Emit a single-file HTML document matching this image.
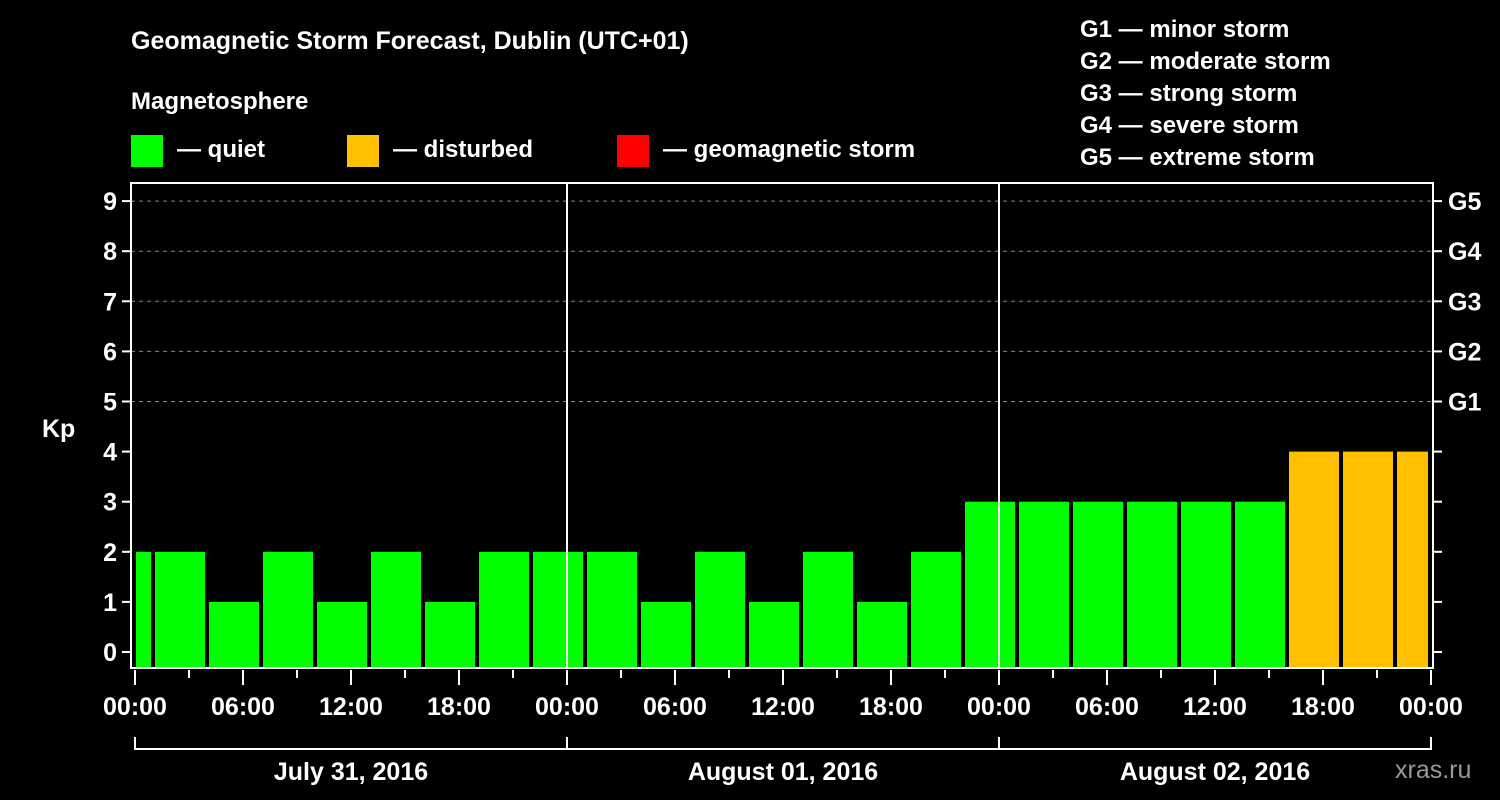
<!DOCTYPE html>
<html><head><meta charset="utf-8"><style>
body{margin:0;background:#000;}
svg{display:block;font-family:"Liberation Sans",Arial,sans-serif;font-weight:bold;}
</style></head><body>
<svg id="chart" width="1500" height="800" xmlns="http://www.w3.org/2000/svg">
<rect width="1500" height="800" fill="#000"/>
<text x="131" y="49" fill="#fff" font-size="25">Geomagnetic Storm Forecast, Dublin (UTC+01)</text>
<text x="131" y="109" fill="#fff" font-size="24">Magnetosphere</text>
<g><rect x="131" y="135" width="32" height="32" fill="#00ff00"/><text x="177" y="157" fill="#fff" font-size="24">— quiet</text></g>
<g><rect x="347" y="135" width="32" height="32" fill="#ffc000"/><text x="393" y="157" fill="#fff" font-size="24">— disturbed</text></g>
<g><rect x="617" y="135" width="32" height="32" fill="#ff0000"/><text x="663" y="157" fill="#fff" font-size="24">— geomagnetic storm</text></g>
<g fill="#fff" font-size="24">
<text x="1080" y="37">G1 — minor storm</text>
<text x="1080" y="69">G2 — moderate storm</text>
<text x="1080" y="101">G3 — strong storm</text>
<text x="1080" y="133">G4 — severe storm</text>
<text x="1080" y="165">G5 — extreme storm</text>
</g>
<g id="grid"></g><g id="bars"></g><g id="axes"></g>
<text x="42" y="437" fill="#fff" font-size="25">Kp</text>
<text x="1395" y="778" fill="#999" font-size="25" font-weight="normal">xras.ru</text>
</svg>
<script>
const kpValues=[2,2,1,2,1,2,1,2,2,2,1,2,1,2,1,2,3,3,3,3,3,3,4,4,4];
const dayLabels=["July 31, 2016","August 01, 2016","August 02, 2016"];
const yTicks=[0,1,2,3,4,5,6,7,8,9];
const gLabels=["G1","G2","G3","G4","G5"];
const xTickLabels=["00:00","06:00","12:00","18:00"];
const NS="http://www.w3.org/2000/svg";
const L=131,R=1433,T=183,B=668,X0=135,PXH=18;
const y=v=>652-v*50.1;
const x=h=>X0+h*PXH;
function mk(t,a,p){const e=document.createElementNS(NS,t);for(const k in a)e.setAttribute(k,a[k]);p.appendChild(e);return e;}
const grid=document.getElementById('grid'),bars=document.getElementById('bars'),axes=document.getElementById('axes');
for(let i=5;i<=9;i++){const l=mk('line',{x1:L,x2:R,y1:y(i),y2:y(i),stroke:'#888','stroke-dasharray':'4,4','stroke-width':1},grid);

}
kpValues.forEach((v,i)=>{
 let s=x(-2+3*i)+2,e=x(1+3*i)-2;
 s=Math.max(s,X0+1);e=Math.min(e,R-5);
 const c=v>=5?'#ff0000':(v>=4?'#ffc000':'#00ff00');
 const r=mk('rect',{x:s,y:y(v),width:e-s,height:B-y(v),fill:c},bars);
 
 
});
const frame=mk('rect',{x:L,y:T,width:R-L,height:B-T,fill:'none',stroke:'#fff','stroke-width':2},axes);


for(let d=1;d<3;d++){const l=mk('line',{x1:x(24*d),x2:x(24*d),y1:T,y2:B,stroke:'#fff','stroke-width':2},axes);

}
yTicks.forEach(v=>{
 mk('line',{x1:L-9,x2:L,y1:y(v),y2:y(v),stroke:'#fff','stroke-width':2},axes);
 mk('line',{x1:R,x2:R+9,y1:y(v),y2:y(v),stroke:'#fff','stroke-width':2},axes);
 const t=mk('text',{x:L-14,y:y(v)+9,fill:'#fff','font-size':25,'text-anchor':'end'},axes);t.textContent=v;
 
 
});
gLabels.forEach((g,i)=>{const t=mk('text',{x:1448,y:y(5+i)+9,fill:'#fff','font-size':25},axes);t.textContent=g;
 
 });
for(let h=0;h<=72;h+=3){const major=h%6==0;
 mk('line',{x1:x(h),x2:x(h),y1:B+2,y2:B+(major?17:10),stroke:'#fff','stroke-width':2},axes);
 if(major){const t=mk('text',{x:x(h),y:715,fill:'#fff','font-size':25,'text-anchor':'middle'},axes);t.textContent=h==72?"00:00":xTickLabels[(h%24)/6];
 
 }}
mk('path',{d:`M${x(0)} 737V749H${x(72)}V737M${x(24)} 737V749M${x(48)} 737V749`,stroke:'#fff','stroke-width':2,fill:'none'},axes);
dayLabels.forEach((d,i)=>{const t=mk('text',{x:x(24*i+12),y:780,fill:'#fff','font-size':25,'text-anchor':'middle'},axes);t.textContent=d;
 
 });
</script>
</body></html>
